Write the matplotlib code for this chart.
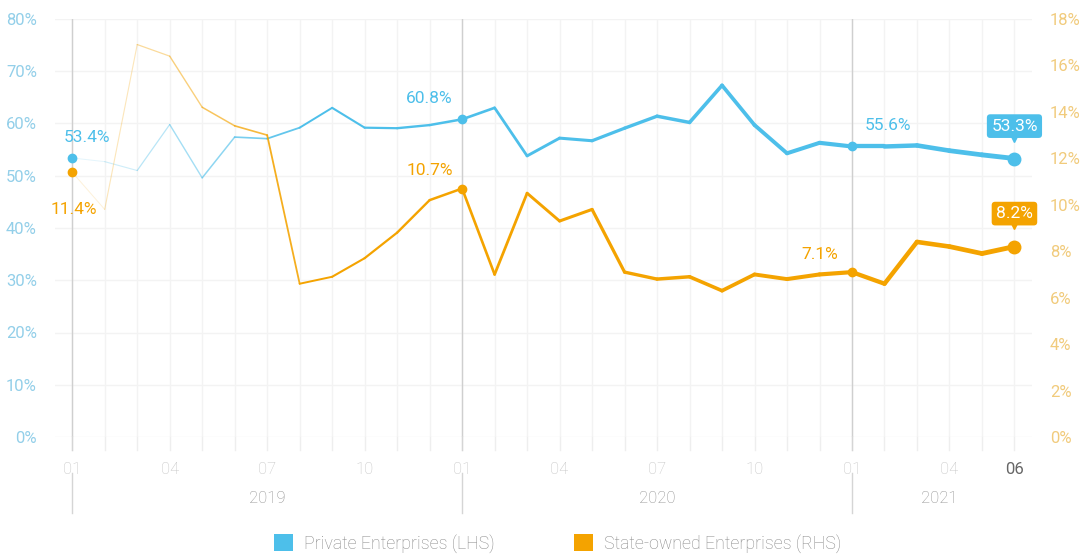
import numpy as np
import matplotlib.pyplot as plt
from matplotlib.collections import LineCollection
from matplotlib.colors import to_rgb
from matplotlib.patches import Patch

plt.rcParams['font.family'] = ['Roboto', 'DejaVu Sans']

# Monthly series, 2019-01 .. 2021-06
private = [53.4, 52.7, 51.0, 59.8, 49.6, 57.4, 57.1, 59.2, 63.0, 59.2,
           59.1, 59.7, 60.8, 63.0, 53.8, 57.2, 56.7, 59.1, 61.4, 60.2,
           67.3, 59.7, 54.3, 56.3, 55.6, 55.6, 55.8, 54.8, 54.0, 53.3]
state = [11.4, 9.8, 16.9, 16.4, 14.2, 13.4, 13.0, 6.6, 6.9, 7.7,
         8.8, 10.2, 10.7, 7.0, 10.5, 9.3, 9.8, 7.1, 6.8, 6.9,
         6.3, 7.0, 6.8, 7.0, 7.1, 6.6, 8.4, 8.2, 7.9, 8.2]
tick_pos = [0, 3, 6, 9, 12, 15, 18, 21, 24, 27, 29]
tick_labels = ["01", "04", "07", "10", "01", "04", "07", "10", "01", "04", "06"]
years = ["2019", "2020", "2021"]
year_start = [0, 12, 24]

BLUE = "#4dbfea"
ORANGE = "#f4a300"

fig = plt.figure(figsize=(10.87, 5.58), dpi=100)
ax = fig.add_axes([55 / 1087, 1 - 437 / 558, 977 / 1087, 418 / 558])
ax2 = ax.twinx()

x = np.arange(len(private))


def faded_line(axis, xs, ys, color, z):
    # segments get wider and more opaque towards the latest month
    pts = np.column_stack([xs, ys])
    segs = np.stack([pts[:-1], pts[1:]], axis=1)
    n = len(segs)
    lw = [0.7 + 2.8 * i / (n - 1) for i in range(n)]
    alpha = [0.15 + 0.85 * min(1.0, i / 7) for i in range(n)]
    cols = [(*to_rgb(color), a) for a in alpha]
    lc = LineCollection(segs, colors=cols, linewidths=lw, capstyle="round",
                        joinstyle="round", zorder=z)
    axis.add_collection(lc)


faded_line(ax, x, private, BLUE, 3)
faded_line(ax2, x, state, ORANGE, 3)

# axes ranges and grid
ax.set_xlim(-0.53, 29.54)
ax.set_ylim(0, 80)
ax2.set_ylim(0, 18)
for s in ["top", "bottom", "left", "right"]:
    ax.spines[s].set_visible(False)
    ax2.spines[s].set_visible(False)

ax.set_yticks(np.arange(0, 81, 10))
ax.set_yticklabels([f"{v}%" for v in range(0, 81, 10)])
ax2.set_yticks(np.arange(0, 19, 2))
ax2.set_yticklabels([f"{v}%" for v in range(0, 19, 2)])
ax.tick_params(axis="y", length=0, pad=13, labelsize=12, labelcolor="#93cfe9")
ax2.tick_params(axis="y", length=0, pad=13, labelsize=12, labelcolor="#f1cb7c")

for v in range(0, 81, 10):
    ax.axhline(v, color="#f3f3f3", lw=1, zorder=0)
for m in x:
    ax.axvline(m, color="#f3f3f3", lw=1, zorder=0)
    ax.plot([m, m], [0, -0.03], transform=ax.get_xaxis_transform(),
            color="#eeeeee", lw=1, clip_on=False)
for m in year_start:
    ax.axvline(m, color="#cfcfcf", lw=1, zorder=1)
    ax.plot([m, m], [0, -0.03], transform=ax.get_xaxis_transform(),
            color="#d5d5d5", lw=1, clip_on=False)
    ax.plot([m, m], [-0.085, -0.183], transform=ax.get_xaxis_transform(),
            color="#d5d5d5", lw=1, clip_on=False)

ax.set_xticks(tick_pos)
ax.set_xticklabels(tick_labels)
ax.tick_params(axis="x", length=0, pad=18, labelsize=12, labelcolor="#c4c4c4")
for lab in ax.get_xticklabels():
    lab.set_fontweight("light")
ax.get_xticklabels()[-1].set_color("#666666")
ax.get_xticklabels()[-1].set_fontweight("normal")

year_mid = [6, 18, 26.7]
for ym, yl in zip(year_mid, years):
    ax.text(ym, -0.147, yl, transform=ax.get_xaxis_transform(), ha="center",
            va="center", fontsize=12, color="#8f8f8f", fontweight="light")

# highlighted points
for i in [0, 12, 24]:
    ax.plot(i, private[i], "o", color=BLUE, ms=6, zorder=5)
    ax2.plot(i, state[i], "o", color=ORANGE, ms=6, zorder=5)
ax.plot(29, private[29], "o", color=BLUE, ms=9, zorder=5)
ax2.plot(29, state[29], "o", color=ORANGE, ms=9, zorder=5)

ax.text(0.45, private[0] + 2.5, f"{private[0]}%", color=BLUE, fontsize=12.5,
        ha="center", va="bottom")
ax2.text(0.05, state[0] - 1.3, f"{state[0]}%", color=ORANGE, fontsize=12.5,
         ha="center", va="top")
ax.text(11.0, private[12] + 2.5, f"{private[12]}%", color=BLUE, fontsize=12.5,
        ha="center", va="bottom")
ax2.text(11.0, state[12] + 0.45, f"{state[12]}%", color=ORANGE, fontsize=12.5,
         ha="center", va="bottom")
ax.text(25.1, private[24] + 2.5, f"{private[24]}%", color=BLUE, fontsize=12.5,
        ha="center", va="bottom")
ax2.text(23.0, state[24] + 0.45, f"{state[24]}%", color=ORANGE, fontsize=12.5,
         ha="center", va="bottom")

# end-of-series tags
ax.text(29, private[29] + 6.2, f"{private[29]}%", color="white", fontsize=12.5,
        ha="center", va="center", zorder=6,
        bbox=dict(boxstyle="round,pad=0.25,rounding_size=0.2", fc=BLUE, ec="none"))
ax.plot(29, private[29] + 4.0, marker="v", color=BLUE, ms=6, zorder=6)
ax2.text(29, state[29] + 1.42, f"{state[29]}%", color="white", fontsize=12.5,
         ha="center", va="center", zorder=6,
         bbox=dict(boxstyle="round,pad=0.25,rounding_size=0.2", fc=ORANGE, ec="none"))
ax2.plot(29, state[29] + 0.92, marker="v", color=ORANGE, ms=6, zorder=6)

handles = [Patch(facecolor=BLUE, label="Private Enterprises (LHS)"),
           Patch(facecolor=ORANGE, label="State-owned Enterprises (RHS)")]
leg = fig.legend(handles=handles, loc="center", bbox_to_anchor=(0.513, 0.026),
                 ncol=2, frameon=False, fontsize=12.8, handlelength=1.05,
                 handleheight=1.05, columnspacing=4.5, handletextpad=0.6)
for t in leg.get_texts():
    t.set_color("#888888")
    t.set_fontweight("light")

fig.savefig("out.png", dpi=100)
